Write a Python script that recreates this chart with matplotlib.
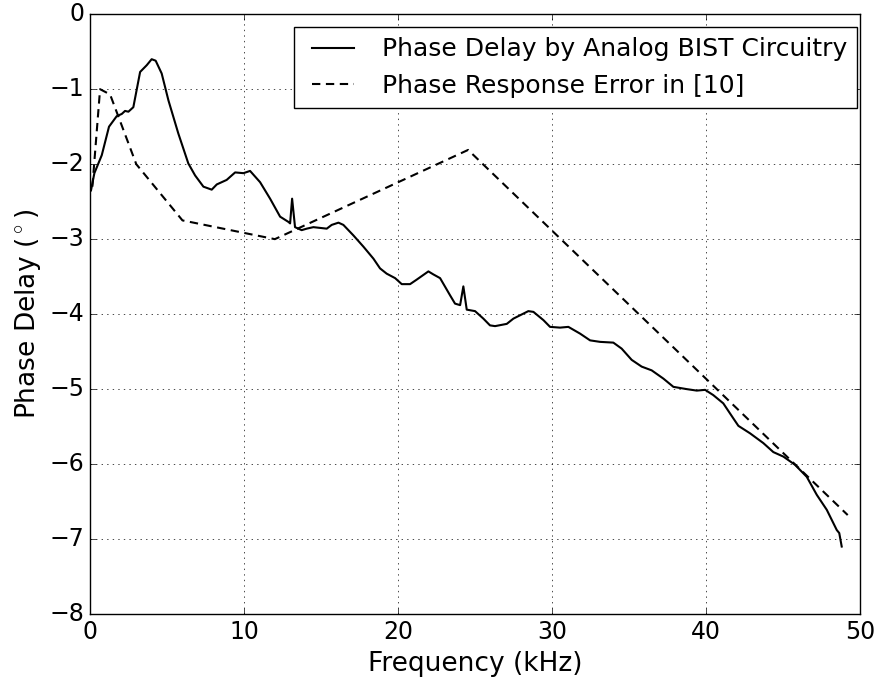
import numpy as np
import matplotlib
matplotlib.use('Agg')
import matplotlib.pyplot as plt

plt.style.use('classic')

# Measured phase delay of the analog BIST circuitry (kHz, degrees)
freq_bist = [0.06, 0.28, 0.76, 1.23, 1.73, 2.06, 2.27, 2.49, 2.81, 3.25, 3.68, 4.0,
             4.26, 4.65, 5.09, 5.73, 6.38, 6.82, 7.36, 7.9, 8.23, 8.87, 9.42, 9.96,
             10.39, 11.04, 11.69, 12.34, 12.88, 12.99, 13.12, 13.31, 13.74, 14.07,
             14.5, 15.37, 15.69, 16.13, 16.45, 17.1, 17.75, 18.4, 18.83, 19.26,
             19.81, 20.24, 20.78, 21.21, 21.97, 22.29, 22.73, 23.38, 23.7, 24.03,
             24.24, 24.46, 25.0, 25.54, 25.97, 26.3, 27.06, 27.49, 28.46, 28.79,
             29.44, 29.87, 30.52, 31.06, 31.82, 32.47, 33.12, 33.98, 34.52, 35.17,
             35.82, 36.47, 37.23, 37.88, 38.74, 39.4, 39.94, 40.47, 41.12, 41.77,
             42.1, 42.86, 43.72, 44.37, 45.02, 45.78, 46.54, 47.19, 47.84, 48.49,
             48.65, 48.81]
phase_bist = [-2.35, -2.12, -1.88, -1.5, -1.36, -1.33, -1.29, -1.3, -1.24, -0.77, -0.68, -0.6,
              -0.62, -0.79, -1.15, -1.59, -1.99, -2.15, -2.3, -2.34, -2.27, -2.21, -2.11, -2.12,
              -2.09, -2.24, -2.46, -2.7, -2.77, -2.79, -2.46, -2.84, -2.88, -2.86,
              -2.84, -2.86, -2.81, -2.78, -2.81, -2.95, -3.1, -3.26, -3.39, -3.46,
              -3.52, -3.6, -3.6, -3.54, -3.43, -3.47, -3.52, -3.75, -3.86, -3.88,
              -3.63, -3.94, -3.96, -4.06, -4.15, -4.16, -4.13, -4.06, -3.96, -3.97,
              -4.08, -4.17, -4.18, -4.17, -4.26, -4.35, -4.37, -4.38, -4.46, -4.61,
              -4.7, -4.75, -4.86, -4.97, -5.0, -5.02, -5.01, -5.08, -5.19, -5.39,
              -5.49, -5.59, -5.72, -5.84, -5.9, -6.01, -6.17, -6.41, -6.61, -6.88,
              -6.92, -7.1]

# Phase response error reported in [10]
freq_ref = [0.15, 0.65, 1.3, 3.0, 6.0, 12.0, 24.55, 49.2]
phase_ref = [-2.3, -1.0, -1.07, -2.0, -2.75, -3.0, -1.81, -6.68]

fig = plt.figure(figsize=(8.83, 6.77), dpi=100)
fig.patch.set_facecolor('white')
ax = fig.add_axes([0.102, 0.093, 0.872, 0.886])

ax.plot(freq_bist, phase_bist, 'k-', lw=1.5, label='Phase Delay by Analog BIST Circuitry')
ax.plot(freq_ref, phase_ref, 'k--', lw=1.5, dashes=(6, 4),
        label='Phase Response Error in [10]')

ax.set_xlim(0, 50)
ax.set_ylim(-8, 0)
ax.set_xticks(np.arange(0, 51, 10))
ax.set_yticks(np.arange(-8, 1, 1))
ax.tick_params(labelsize=17)
ax.set_xlabel('Frequency (kHz)', fontsize=19)
ax.set_ylabel(r'Phase Delay ($^\circ$)', fontsize=19)
ax.grid(True)
ax.legend(loc='upper right', bbox_to_anchor=(0.996, 0.978), fontsize=18,
          handlelength=2.3, handletextpad=0.8, borderpad=0.4, labelspacing=0.5,
          borderaxespad=0)

fig.savefig('out.png', dpi=100, facecolor='white')
